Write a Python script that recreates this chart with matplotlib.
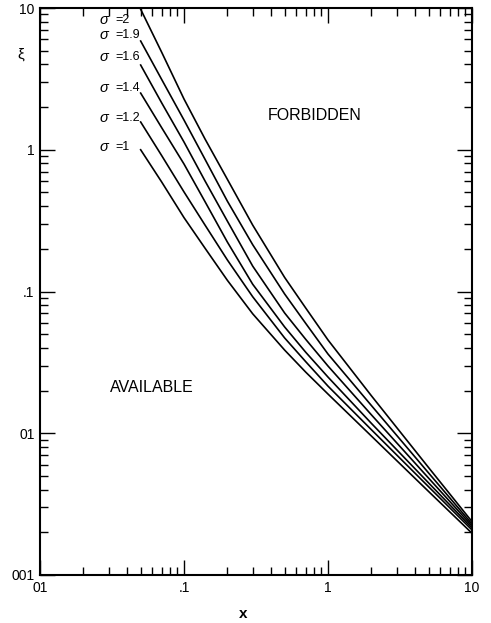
import numpy as np
import matplotlib
matplotlib.use("Agg")
import matplotlib.pyplot as plt
from matplotlib.ticker import FixedLocator, FixedFormatter, LogLocator, NullFormatter

plt.rcParams['font.family'] = ['Liberation Sans', 'DejaVu Sans']

# values (log-log)
x_vals = [0.05, 0.07, 0.1, 0.14, 0.2, 0.3, 0.5, 0.7, 1, 2, 5, 10]
sigma_labels = ["2", "1.9", "1.6", "1.4", "1.2", "1"]
xi_s2 = [9.8, 4.87, 2.28, 1.19, 0.619, 0.294, 0.1256, 0.0765, 0.0455, 0.0184, 0.00572, 0.00238]
xi_s19 = [5.85, 3.13, 1.62, 0.856, 0.434, 0.2138, 0.096, 0.0596, 0.0362, 0.0157, 0.00524, 0.00229]
xi_s16 = [3.96, 2.14, 1.134, 0.602, 0.314, 0.151, 0.0705, 0.046, 0.0298, 0.0135, 0.00482, 0.00222]
xi_s14 = [2.51, 1.43, 0.793, 0.430, 0.2234, 0.1125, 0.0562, 0.0373, 0.0249, 0.01175, 0.00446, 0.00215]
xi_s12 = [1.57, 0.909, 0.504, 0.294, 0.167, 0.0918, 0.047, 0.0320, 0.0215, 0.0106, 0.00419, 0.00208]
xi_s1 = [1.0, 0.592, 0.332, 0.202, 0.120, 0.0696, 0.0386, 0.0270, 0.0189, 0.00956, 0.00388, 0.00197]
curves = [xi_s2, xi_s19, xi_s16, xi_s14, xi_s12, xi_s1]

x_ticks = [0.01, 0.1, 1, 10]
x_ticklabels = ["01", ".1", "1", "10"]
y_ticks = [0.001, 0.01, 0.1, 1, 10]
y_ticklabels = ["001", "01", ".1", "1", "10"]

fig = plt.figure(figsize=(4.91, 6.23), dpi=100)
ax = fig.add_axes([40/491, 48/623, 432/491, 567/623])

for c in curves:
    ax.plot(x_vals, c, color='black', lw=1.2)

ax.set_xscale('log')
ax.set_yscale('log')
ax.set_xlim(0.01, 10)
ax.set_ylim(0.001, 10)

ax.xaxis.set_major_locator(FixedLocator(x_ticks))
ax.xaxis.set_major_formatter(FixedFormatter(x_ticklabels))
ax.yaxis.set_major_locator(FixedLocator(y_ticks))
ax.yaxis.set_major_formatter(FixedFormatter(y_ticklabels))
ax.xaxis.set_minor_locator(LogLocator(base=10, subs=np.arange(2, 10)))
ax.yaxis.set_minor_locator(LogLocator(base=10, subs=np.arange(2, 10)))
ax.xaxis.set_minor_formatter(NullFormatter())
ax.yaxis.set_minor_formatter(NullFormatter())

ax.tick_params(which='both', direction='in', top=True, right=True, width=1.0, colors='black')
ax.tick_params(which='major', length=11, labelsize=10, pad=4)
ax.tick_params(which='minor', length=5.5)
for s in ax.spines.values():
    s.set_linewidth(1.5)

ax.text(0.5 - 0.03, -0.068, "x", transform=ax.transAxes, ha='center', va='center',
        fontsize=11, fontweight='bold')
ax.text(-0.045, 0.918, "ξ", transform=ax.transAxes, ha='center', va='center', fontsize=11)

# sigma labels
label_y = [20, 35, 57, 88, 118, 147]
for lab, yp in zip(sigma_labels, label_y):
    yf = (575 - yp) / 567
    ax.text((104 - 40) / 432, yf, "σ", transform=ax.transAxes, ha='center', va='center',
            fontsize=10.5, style='italic')
    ax.text((115 - 40) / 432, yf, "=" + lab, transform=ax.transAxes, ha='left', va='center',
            fontsize=9)

ax.text((315 - 40) / 432, (575 - 115) / 567, "FORBIDDEN", transform=ax.transAxes,
        ha='center', va='center', fontsize=11.5)
ax.text((152 - 40) / 432, (575 - 388) / 567, "AVAILABLE", transform=ax.transAxes,
        ha='center', va='center', fontsize=11.5)

fig.savefig("out.png", dpi=100)
